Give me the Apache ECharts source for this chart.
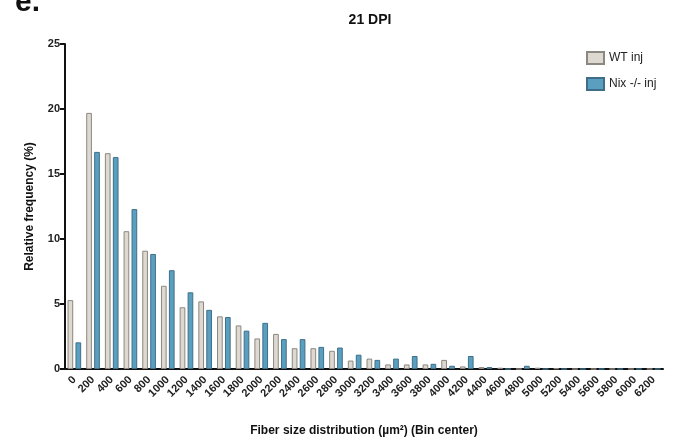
<!DOCTYPE html>
<html>
<head>
<meta charset="utf-8">
<script src="https://cdn.jsdelivr.net/npm/echarts@6/dist/echarts.min.js"></script>
<style>
  html, body { margin: 0; padding: 0; background: #fff; }
  #chart { width: 675px; height: 442px; }
</style>
</head>
<body>
<div id="chart"></div>
<script>
// bin centers (µm²)
const binCenters = ['0', '200', '400', '600', '800', '1000', '1200', '1400', '1600', '1800',
  '2000', '2200', '2400', '2600', '2800', '3000', '3200', '3400', '3600', '3800',
  '4000', '4200', '4400', '4600', '4800', '5000', '5200', '5400', '5600', '5800',
  '6000', '6200'];

// relative frequency (%)
const wtInj = [5.3, 19.7, 16.6, 10.6, 9.1, 6.4, 4.75, 5.2, 4.05, 3.35,
  2.35, 2.7, 1.6, 1.6, 1.4, 0.65, 0.8, 0.35, 0.35, 0.35,
  0.7, 0.2, 0.15, 0.1, 0, 0.1, 0.05, 0, 0, 0,
  0, 0];
const nixInj = [2.05, 16.7, 16.3, 12.3, 8.85, 7.6, 5.9, 4.55, 4.0, 2.95,
  3.55, 2.3, 2.3, 1.7, 1.65, 1.1, 0.7, 0.8, 1.0, 0.4,
  0.25, 1.0, 0.15, 0, 0.25, 0, 0, 0, 0, 0,
  0, 0];

const font = 'Liberation Sans, Arial, sans-serif';

const option = {
  animation: false,
  backgroundColor: '#fff',
  title: [
    {
      text: '21 DPI',
      left: 365,
      top: 8,
      textAlign: 'center',
      textStyle: { fontFamily: font, fontSize: 14, fontWeight: 'bold', color: '#111' }
    },
    {
      text: 'e.',
      left: 10,
      top: -17,
      textStyle: { fontFamily: font, fontSize: 30, fontWeight: 'bold', color: '#111' }
    }
  ],
  legend: {
    orient: 'vertical',
    left: 581,
    top: 46,
    icon: 'rect',
    itemWidth: 17,
    itemHeight: 12,
    itemGap: 12,
    textStyle: { fontFamily: font, fontSize: 12, color: '#222' },
    data: ['WT inj', 'Nix -/- inj']
  },
  grid: { left: 65, right: 12, top: 44, bottom: 68 },
  xAxis: {
    type: 'category',
    data: binCenters,
    name: 'Fiber size distribution (µm²) (Bin center)',
    nameLocation: 'middle',
    nameGap: 56,
    nameTextStyle: { fontFamily: font, fontSize: 12, fontWeight: 'bold', color: '#111' },
    axisLine: { lineStyle: { color: '#111', width: 2 } },
    axisTick: { alignWithLabel: true, length: 6, lineStyle: { color: '#111', width: 2 } },
    axisLabel: {
      rotate: 45,
      interval: 0,
      margin: 9,
      fontFamily: font,
      fontSize: 11,
      fontWeight: 'bold',
      color: '#222'
    },
    splitLine: { show: false }
  },
  yAxis: {
    type: 'value',
    min: 0,
    max: 25,
    interval: 5,
    name: 'Relative frequency (%)',
    nameLocation: 'middle',
    nameGap: 29,
    nameTextStyle: { fontFamily: font, fontSize: 12, fontWeight: 'bold', color: '#111' },
    axisLine: { show: true, lineStyle: { color: '#111', width: 2 } },
    axisTick: { show: true, length: 5, lineStyle: { color: '#111', width: 2 } },
    axisLabel: { fontFamily: font, fontSize: 11, fontWeight: 'bold', color: '#222', margin: 5 },
    splitLine: { show: false }
  },
  series: [
    {
      name: 'WT inj',
      type: 'bar',
      data: wtInj,
      barGap: '40%',
      barCategoryGap: '27%',
      itemStyle: { color: '#ddd8d0', borderColor: '#8c8780', borderWidth: 1 }
    },
    {
      name: 'Nix -/- inj',
      type: 'bar',
      data: nixInj,
      itemStyle: { color: '#5b9fc0', borderColor: '#3f6f88', borderWidth: 1 }
    }
  ]
};

const chart = echarts.init(document.getElementById('chart'));
chart.setOption(option);
</script>
</body>
</html>
